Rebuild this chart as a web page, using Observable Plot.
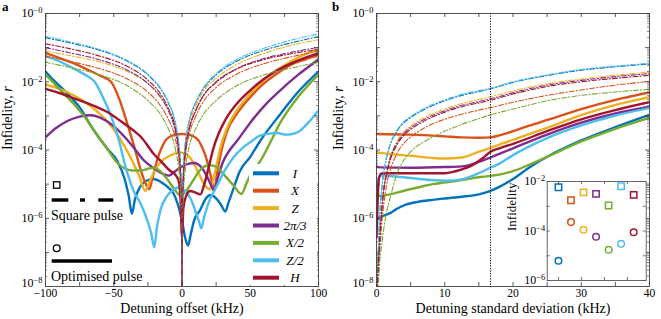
<!DOCTYPE html>
<html><head><meta charset="utf-8">
<script src="https://cdn.jsdelivr.net/npm/d3@7"></script>
<script src="https://cdn.jsdelivr.net/npm/@observablehq/plot@0.6"></script>
<style>
body{margin:0;background:#fff;}
#root{position:relative;width:661px;height:319px;overflow:hidden;background:#fff;}
</style></head>
<body><div id="root"></div>
<script>
const FONT = "'Liberation Serif','DejaVu Serif',serif";
const gates = ["I","X","Z","2π/3","X/2","Z/2","H"];
const gateColors = ["#0072BD","#D95319","#EDB120","#7E2F8E","#77AC30","#4DBEEE","#A2142F"];

// ---------- Panel a: optimised pulses (solid), [detuning kHz, log10 infidelity]
const aSolid_I = [[-100,-1.70],[-94,-1.96],[-85,-2.3],[-75,-2.75],[-65,-3.4],[-55,-3.95],[-47.6,-4.31],[-42,-4.85],[-39,-5.35],[-36.7,-5.87],[-34.5,-5.45],[-31,-5.1],[-26,-4.9],[-21,-4.85],[-15,-4.95],[-10,-5.1],[-6,-5.29],[-3,-5.6],[0,-6.07],[2.5,-6.6],[4.4,-6.8],[6.5,-6.45],[9,-6.05],[13.4,-5.75],[17,-5.45],[21,-5.32],[25,-5.42],[28.5,-5.6],[31.7,-5.8],[34,-5.55],[38,-5.1],[42,-4.65],[50,-4.2],[57,-3.75],[72,-2.95],[85,-2.3],[100,-1.70]];
const aSolid_X = [[-100,-1.15],[-90,-1.3],[-80,-1.45],[-70,-1.63],[-60,-1.82],[-52,-2.0],[-46,-2.5],[-40,-3.24],[-35,-3.9],[-30.5,-4.55],[-27,-4.95],[-24,-5.15],[-21.5,-4.8],[-18.3,-4.31],[-14.5,-3.9],[-11,-3.67],[-5,-3.55],[0,-3.53],[5,-3.55],[11,-3.67],[14.5,-3.9],[18.3,-4.31],[21,-4.75],[23.7,-5.14],[26,-4.6],[29,-4.0],[33,-3.45],[40,-2.95],[50,-2.45],[60,-2.05],[70,-1.75],[80,-1.5],[90,-1.35],[100,-1.22]];
const aSolid_Z = [[-100,-2.08],[-90,-2.2],[-80,-2.38],[-70,-2.62],[-60,-2.95],[-50,-3.4],[-42,-3.9],[-36,-4.35],[-31,-4.8],[-27,-5.2],[-24,-4.95],[-20,-4.6],[-14,-4.3],[-8,-4.15],[-2,-4.07],[3,-4.12],[8,-4.35],[13,-4.75],[17,-5.05],[20,-5.15],[22.5,-4.95],[25,-4.5],[28,-3.95],[33,-3.35],[40,-2.85],[50,-2.35],[60,-1.95],[70,-1.65],[80,-1.4],[90,-1.2],[100,-1.05]];
const aSolid_P = [[-100,-3.63],[-92,-3.35],[-84,-3.15],[-75,-3.02],[-67,-2.98],[-60,-3.05],[-50,-3.3],[-42,-3.62],[-35,-3.95],[-28,-4.3],[-20,-4.55],[-14,-4.7],[-9.5,-4.75],[-5,-4.62],[0,-4.48],[5,-4.4],[9,-4.38],[14,-4.5],[18,-4.75],[21,-5.0],[23.5,-5.2],[26,-4.85],[30,-4.35],[35,-4.0],[40,-3.75],[50,-3.2],[60,-2.72],[72,-2.25],[85,-1.8],[100,-1.35]];
const aSolid_X2 = [[-100,-1.79],[-90,-2.2],[-80,-2.62],[-70,-3.1],[-65,-3.4],[-55,-3.95],[-48,-4.35],[-41,-4.56],[-36,-4.6],[-30,-4.6],[-25,-4.55],[-21,-4.52],[-16,-4.62],[-10,-4.9],[-5,-5.18],[-1,-5.34],[3,-5.2],[8,-4.9],[13,-4.6],[18,-4.46],[22,-4.45],[27,-4.55],[32,-4.78],[38,-5.05],[43.5,-5.29],[47,-5.0],[51,-4.65],[57,-4.35],[65,-3.75],[72,-3.2],[85,-2.45],[100,-1.79]];
const aSolid_Z2 = [[-100,-1.25],[-90,-1.4],[-80,-1.6],[-70,-1.82],[-64,-2.0],[-58,-2.45],[-52,-3.0],[-46,-3.75],[-42,-4.4],[-35.5,-5.19],[-30,-5.6],[-26,-6.0],[-22.5,-6.45],[-20.3,-6.85],[-18.5,-6.3],[-15.9,-5.78],[-11,-5.35],[-7,-5.19],[-2.5,-5.1],[2,-5.2],[6,-5.4],[9.5,-5.75],[12.5,-6.1],[14.1,-6.3],[16,-6.0],[19,-5.6],[25.6,-5.05],[32,-4.55],[37.8,-4.21],[44,-3.95],[50,-3.77],[57,-3.58],[64,-3.52],[70,-3.5],[76,-3.55],[81,-3.53],[86,-3.45],[92,-3.22],[100,-2.84]];
const aSolid_H = [[-100,-2.21],[-90,-2.33],[-80,-2.47],[-70,-2.62],[-62,-2.75],[-55,-2.88],[-45,-3.15],[-35.5,-3.43],[-30,-3.62],[-21,-4.1],[-15,-4.35],[-9,-4.6],[-5,-4.72],[-2.5,-4.9],[-1,-5.5],[0,-6.56],[1,-5.7],[3,-5.35],[6,-5.2],[10,-5.25],[13.4,-5.3],[16,-5.05],[19,-4.6],[23,-3.95],[27,-3.5],[32,-3.1],[40,-2.65],[50,-2.25],[60,-1.92],[70,-1.66],[80,-1.46],[90,-1.3],[100,-1.17]];

// ---------- Panel a: square pulses (dash-dot), on a shared detuning grid
const aDashDetuning = [-100,-80,-60,-40,-25,-15,-10,-5,-2.5,-1,-0.3,0,0.3,1,2.5,5,10,15,25,40,60,80,100];
const aDash_I  = [-0.71,-0.88,-1.08,-1.4,-1.8,-2.25,-2.62,-3.2,-3.8,-4.6,-5.6,-10,-5.6,-4.6,-3.8,-3.2,-2.62,-2.25,-1.8,-1.4,-1.08,-0.86,-0.68];
const aDash_X  = [-1.25,-1.42,-1.62,-1.92,-2.3,-2.75,-3.1,-3.65,-4.25,-5.05,-6.0,-10,-6.0,-5.05,-4.2,-3.6,-3.02,-2.62,-2.17,-1.78,-1.47,-1.27,-1.1];
const aDash_Z  = [-1.1,-1.25,-1.42,-1.7,-2.05,-2.45,-2.8,-3.35,-3.95,-4.75,-5.75,-10,-5.75,-4.75,-3.9,-3.3,-2.72,-2.32,-1.9,-1.5,-1.17,-0.93,-0.77];
const aDash_P  = [-1.0,-1.17,-1.36,-1.66,-2.05,-2.5,-2.85,-3.45,-4.05,-4.85,-5.85,-10,-5.85,-4.85,-4.05,-3.45,-2.85,-2.45,-2.0,-1.62,-1.32,-1.14,-0.99];
const aDash_X2 = [-1.43,-1.6,-1.8,-2.12,-2.55,-3.0,-3.38,-3.95,-4.55,-5.3,-6.3,-10,-6.3,-5.3,-4.55,-3.95,-3.38,-3.0,-2.55,-2.12,-1.8,-1.6,-1.43];
const aDash_Z2 = [-0.67,-0.85,-1.06,-1.38,-1.78,-2.23,-2.6,-3.18,-3.78,-4.58,-5.58,-10,-5.58,-4.58,-3.78,-3.18,-2.6,-2.22,-1.76,-1.35,-1.02,-0.78,-0.6];
const aDash_H  = [-0.89,-1.05,-1.25,-1.55,-1.95,-2.4,-2.78,-3.35,-3.95,-4.75,-5.75,-10,-5.8,-4.8,-4.0,-3.42,-2.85,-2.45,-2.02,-1.63,-1.35,-1.18,-1.05];

// ---------- Panel b: optimised pulses (solid), [sigma kHz, log10 infidelity]
const bSolid_I = [[0,-6.07],[0.4,-5.97],[1,-5.93],[2,-5.85],[3,-5.72],[4.3,-5.6],[6,-5.52],[8.2,-5.46],[10,-5.42],[12.5,-5.37],[15,-5.3],[16.7,-5.2],[18,-5.08],[20,-4.85],[22.5,-4.5],[25,-4.2],[30,-3.72],[35,-3.33],[40,-2.97]];
const bSolid_X = [[0,-3.53],[5,-3.55],[10,-3.6],[12.5,-3.63],[15,-3.64],[16.7,-3.63],[18,-3.57],[20,-3.45],[22.5,-3.28],[25,-3.12],[30,-2.8],[35,-2.53],[40,-2.31]];
const bSolid_Z = [[0,-4.07],[2,-4.12],[5,-4.17],[8,-4.23],[10,-4.25],[12.5,-4.22],[15,-4.05],[16.7,-3.94],[20,-3.7],[25,-3.35],[30,-2.98],[35,-2.68],[40,-2.45]];
const bSolid_P = [[0,-4.48],[0.5,-4.51],[5,-4.52],[10,-4.5],[12.5,-4.48],[15,-4.35],[16.7,-4.22],[20,-3.95],[25,-3.55],[30,-3.2],[35,-2.93],[40,-2.73]];
const bSolid_X2 = [[0,-5.34],[0.5,-5.34],[2,-5.3],[4.3,-5.18],[6,-5.1],[8.2,-5.0],[10,-4.95],[12.5,-4.88],[15,-4.8],[16.7,-4.76],[18,-4.72],[20,-4.62],[22.5,-4.42],[25,-4.2],[30,-3.75],[35,-3.38],[40,-3.06]];
const bSolid_Z2 = [[0,-5.15],[0.3,-4.8],[0.7,-4.74],[2,-4.76],[5,-4.82],[8,-4.88],[10.5,-4.9],[12.5,-4.86],[15,-4.68],[16.7,-4.52],[18,-4.4],[20,-4.15],[25,-3.65],[30,-3.28],[35,-2.99],[40,-2.77]];
const bSolid_H = [[0,-6.56],[0.15,-5.6],[0.35,-4.85],[0.7,-4.69],[2,-4.68],[5,-4.68],[10,-4.68],[12.5,-4.57],[14,-4.45],[15.5,-4.25],[16.7,-4.05],[18,-3.95],[20,-3.82],[25,-3.45],[30,-3.1],[35,-2.83],[40,-2.6]];

// ---------- Panel b: square pulses (dash-dot), on a shared sigma grid
const bDashSigma = [0,0.15,0.3,0.5,0.75,1,1.5,2,3,4,5,7.5,10,12.5,15,16.7,20,25,30,35,40];
const bDash_I  = [-10,-7.8,-6.8,-5.8,-5.2,-4.75,-4.2,-3.85,-3.45,-3.2,-3.05,-2.76,-2.56,-2.4,-2.29,-2.21,-2.02,-1.82,-1.66,-1.56,-1.48];
const bDash_X  = [-10,-8.0,-7.5,-6.9,-6.2,-5.7,-5.0,-4.6,-4.1,-3.8,-3.62,-3.3,-3.1,-2.95,-2.83,-2.76,-2.6,-2.4,-2.24,-2.1,-1.99];
const bDash_Z  = [-10,-8.0,-7.2,-6.4,-5.7,-5.2,-4.6,-4.2,-3.75,-3.47,-3.3,-3.0,-2.8,-2.64,-2.52,-2.44,-2.27,-2.06,-1.92,-1.81,-1.72];
const bDash_P  = [-10,-8.0,-7.3,-6.5,-5.8,-5.25,-4.65,-4.25,-3.8,-3.52,-3.35,-3.05,-2.85,-2.69,-2.58,-2.5,-2.32,-2.1,-1.96,-1.85,-1.76];
const bDash_X2 = [-10,-8.0,-7.8,-7.2,-6.8,-6.4,-5.8,-5.4,-4.7,-4.3,-4.05,-3.7,-3.45,-3.25,-3.08,-2.97,-2.8,-2.56,-2.4,-2.3,-2.22];
const bDash_Z2 = [-10,-7.8,-6.8,-5.8,-5.2,-4.73,-4.17,-3.82,-3.42,-3.17,-3.02,-2.73,-2.53,-2.37,-2.26,-2.19,-2.0,-1.8,-1.64,-1.54,-1.46];
const bDash_H  = [-10,-7.9,-7.2,-6.5,-5.85,-5.3,-4.7,-4.3,-3.85,-3.57,-3.4,-3.1,-2.89,-2.73,-2.62,-2.54,-2.36,-2.14,-2.0,-1.9,-1.81];
const bMarkedSigma = 16.7;

// ---------- Inset: infidelity at the marked sigma (log10)
const insetSquare = [-2.23,-2.76,-2.44,-2.5,-2.97,-2.19,-2.54];
const insetCircle = [-5.2,-3.64,-3.95,-4.23,-4.76,-4.52,-4.05];
const insetXTicks = [1,2.83,4.67,6.5];

// ---------- tick labels
const aXLabels = [-100,-50,0,50,100];
const aXTicks = [-100,-75,-50,-25,0,25,50,75,100];
const bXLabels = [0,10,20,30,40];
const bXTicks = [0,5,10,15,20,25,30,35,40];
const yLabelExps = [-8,-6,-4,-2,0];
const insetYLabelExps = [-6,-4,-2];

// ---------- build tables
const aSolid = [aSolid_I,aSolid_X,aSolid_Z,aSolid_P,aSolid_X2,aSolid_Z2,aSolid_H];
const aDash = [aDash_I,aDash_X,aDash_Z,aDash_P,aDash_X2,aDash_Z2,aDash_H];
const bSolid = [bSolid_I,bSolid_X,bSolid_Z,bSolid_P,bSolid_X2,bSolid_Z2,bSolid_H];
const bDash = [bDash_I,bDash_X,bDash_Z,bDash_P,bDash_X2,bDash_Z2,bDash_H];
const fromPairs = arr => arr.flatMap((pairs,gi)=>pairs.map(([x,e])=>({x, r:Math.pow(10,e), gate:gates[gi]})));
const fromGrid = (grid,arr) => arr.flatMap((vals,gi)=>vals.map((e,k)=>({x:grid[k], r:Math.pow(10,e), gate:gates[gi]})));
const aSolidRows = fromPairs(aSolid), aDashRows = fromGrid(aDashDetuning,aDash);
const bSolidRows = fromPairs(bSolid), bDashRows = fromGrid(bDashSigma,bDash);
const insetRows = gates.flatMap((g,i)=>[
  {i:i+1, gate:g, r:Math.pow(10,insetSquare[i]), kind:"square"},
  {i:i+1, gate:g, r:Math.pow(10,insetCircle[i]), kind:"circle"}]);

const yMajor = d3.range(-8,1).map(e=>Math.pow(10,e));
const yMinor = d3.range(-8,0).flatMap(e=>d3.range(2,10).map(m=>m*Math.pow(10,e)));
const minus = v => v<0 ? "\u2212"+(-v) : String(v);
const supLabel = e => "10^\u2212"+(-e);

const W = 273, H = 273, TK = "#333";
const DASH = "5,2,1.3,2";
function frameTicks(xTicks){
  return [
    Plot.ruleX(xTicks,{x:d=>d, insetTop:H-4, stroke:TK, strokeWidth:0.8}),
    Plot.ruleX(xTicks,{x:d=>d, insetBottom:H-4, stroke:TK, strokeWidth:0.8}),
    Plot.ruleY(yMajor,{y:d=>d, insetRight:W-4, stroke:TK, strokeWidth:0.8}),
    Plot.ruleY(yMajor,{y:d=>d, insetLeft:W-4, stroke:TK, strokeWidth:0.8}),
    Plot.ruleY(yMinor,{y:d=>d, insetRight:W-2, stroke:TK, strokeWidth:0.6}),
    Plot.ruleY(yMinor,{y:d=>d, insetLeft:W-2, stroke:TK, strokeWidth:0.6})
  ];
}
function axisText(xLabels, xTitle){
  const yl = yLabelExps.map(e=>Math.pow(10,e));
  return [
    Plot.text(yl.slice(1),{y:d=>d, frameAnchor:"left", dx:-3, textAnchor:"end", text:d=>supLabel(Math.round(Math.log10(d))), fontSize:12}),
    Plot.text(yl.slice(0,1),{y:d=>d, frameAnchor:"left", dx:-3, dy:-3, textAnchor:"end", text:d=>supLabel(Math.round(Math.log10(d))), fontSize:12}),
    Plot.text(xLabels,{x:d=>d, frameAnchor:"bottom", dy:2, lineAnchor:"top", text:d=>minus(d), fontSize:11.5}),
    Plot.text([xTitle],{frameAnchor:"bottom", dy:17, lineAnchor:"top", text:d=>d, fontSize:14}),
    Plot.text(["Infidelity, r"],{frameAnchor:"left", dx:-37.5, rotate:-90, text:d=>d, fontSize:14})
  ];
}
const style = {fontFamily:FONT, fontSize:"12px", background:"transparent", overflow:"visible", color:"#000"};
const colorScale = {domain:gates, range:gateColors};

const panelA = Plot.plot({
  width:330, height:319, marginLeft:45, marginRight:12, marginTop:13, marginBottom:33,
  style, color:colorScale,
  x:{type:"linear", domain:[-100,100], axis:null},
  y:{type:"log", domain:[1e-8,1], axis:null},
  marks:[
    Plot.line(aSolidRows,{x:"x", y:"r", stroke:"gate", z:"gate", strokeWidth:2.4, curve:"monotone-x", clip:true}),
    Plot.line(aDashRows,{x:"x", y:"r", stroke:"gate", z:"gate", strokeWidth:1.1, strokeDasharray:DASH, curve:"monotone-x", clip:true}),
    ...frameTicks(aXTicks),
    Plot.frame({stroke:"#444", strokeWidth:0.9}),
    ...axisText(aXLabels, "Detuning offset (kHz)")
  ]
});

const panelB = Plot.plot({
  width:331, height:319, marginLeft:46, marginRight:12, marginTop:13, marginBottom:33,
  style, color:colorScale,
  x:{type:"linear", domain:[0,40], axis:null},
  y:{type:"log", domain:[1e-8,1], axis:null},
  marks:[
    Plot.line(bSolidRows,{x:"x", y:"r", stroke:"gate", z:"gate", strokeWidth:2.4, curve:"monotone-x", clip:true}),
    Plot.line(bDashRows,{x:"x", y:"r", stroke:"gate", z:"gate", strokeWidth:1.1, strokeDasharray:DASH, curve:"monotone-x", clip:true}),
    Plot.ruleX([bMarkedSigma],{x:d=>d, stroke:"#111", strokeWidth:1, strokeDasharray:"1.3,1.3"}),
    ...frameTicks(bXTicks),
    Plot.frame({stroke:"#444", strokeWidth:0.9}),
    ...axisText(bXLabels, "Detuning standard deviation (kHz)")
  ]
});

const IW = 99, IH = 99;
const inset = Plot.plot({
  width:150, height:116, marginLeft:46.7, marginRight:4.3, marginTop:13, marginBottom:4,
  style, color:colorScale,
  x:{type:"linear", domain:[0.1,8.0], axis:null},
  y:{type:"log", domain:[1e-6,1e-2], axis:null},
  marks:[
    Plot.frame({fill:"#fff", stroke:"none"}),
    Plot.dot(insetRows.filter(d=>d.kind==="square"),{x:"i", y:"r", stroke:"gate", symbol:"square", r:3.6, strokeWidth:1.5, fill:"none"}),
    Plot.dot(insetRows.filter(d=>d.kind==="circle"),{x:"i", y:"r", stroke:"gate", symbol:"circle", r:3.3, strokeWidth:1.5, fill:"none"}),
    Plot.ruleX(insetXTicks,{x:d=>d, insetTop:IH-3, stroke:TK, strokeWidth:0.7}),
    Plot.ruleX(insetXTicks,{x:d=>d, insetBottom:IH-3, stroke:TK, strokeWidth:0.7}),
    Plot.ruleY([1e-6,1e-5,1e-4,1e-3,1e-2],{y:d=>d, insetRight:IW-3, stroke:TK, strokeWidth:0.7}),
    Plot.ruleY([1e-6,1e-5,1e-4,1e-3,1e-2],{y:d=>d, insetLeft:IW-3, stroke:TK, strokeWidth:0.7}),
    Plot.frame({stroke:"#555", strokeWidth:0.9}),
    Plot.text(insetYLabelExps.map(e=>Math.pow(10,e)),{y:d=>d, frameAnchor:"left", dx:-2, textAnchor:"end", text:d=>supLabel(Math.round(Math.log10(d))), fontSize:12}),
    Plot.text(["Infidelity"],{frameAnchor:"left", dx:-35, rotate:-90, text:d=>d, fontSize:13})
  ]
});

const NS = "http://www.w3.org/2000/svg";
function decorate(svg){
  svg.querySelectorAll("text").forEach(t=>{
    const s = t.textContent;
    if (s.includes("^")) {
      const [b,e] = s.split("^");
      t.textContent = "";
      const t1 = document.createElementNS(NS,"tspan"); t1.textContent = b; t.appendChild(t1);
      const t2 = document.createElementNS(NS,"tspan"); t2.textContent = e;
      t2.setAttribute("dy","-0.48em"); t2.setAttribute("font-size","0.7em"); t.appendChild(t2);
    } else if (s === "Infidelity, r") {
      t.textContent = "";
      const t1 = document.createElementNS(NS,"tspan"); t1.textContent = "Infidelity, "; t.appendChild(t1);
      const t2 = document.createElementNS(NS,"tspan"); t2.textContent = "r"; t2.setAttribute("font-style","italic"); t.appendChild(t2);
    }
  });
}
const root = document.getElementById("root");
function place(el,left,top){ el.style.position="absolute"; el.style.left=left+"px"; el.style.top=top+"px"; root.appendChild(el); decorate(el); }
place(panelA,0,0);
place(panelB,330,0);

// overlay: panel letters, legend, line-style key
const ov = d3.create("svg").attr("width",661).attr("height",319)
  .style("font-family",FONT);
ov.append("text").attr("x",2).attr("y",11).attr("font-weight","bold").attr("font-size",13).text("a");
ov.append("text").attr("x",332).attr("y",11).attr("font-weight","bold").attr("font-size",13).text("b");
const lg = ov.append("g");
lg.append("rect").attr("x",249).attr("y",164).attr("width",68).attr("height",121).attr("fill","#fff");
gates.forEach((g,i)=>{
  const y = 173.3 + i*17.4;
  lg.append("line").attr("x1",253).attr("x2",279).attr("y1",y).attr("y2",y).attr("stroke",gateColors[i]).attr("stroke-width",4);
  lg.append("text").attr("x",295).attr("y",y).attr("dy","0.35em").attr("text-anchor","middle").attr("font-size",13).attr("font-style","italic").text(g);
});
const key = ov.append("g");
key.append("rect").attr("x",53.5).attr("y",181.8).attr("width",6.4).attr("height",6.4).attr("fill","none").attr("stroke","#000").attr("stroke-width",1.3);
[[51.7,68.3],[80,85],[98.3,113.3]].forEach(([a,b])=>key.append("line").attr("x1",a).attr("x2",b).attr("y1",200).attr("y2",200).attr("stroke","#000").attr("stroke-width",3.4));
key.append("text").attr("x",51).attr("y",215).attr("dy","0.35em").attr("font-size",14).text("Square pulse");
key.append("circle").attr("cx",56.7).attr("cy",248.3).attr("r",3.4).attr("fill","none").attr("stroke","#000").attr("stroke-width",1.3);
key.append("line").attr("x1",51.7).attr("x2",112).attr("y1",261).attr("y2",261).attr("stroke","#000").attr("stroke-width",3.4);
key.append("text").attr("x",51).attr("y",275.7).attr("dy","0.35em").attr("font-size",14).text("Optimised pulse");
place(ov.node(),0,0);
place(inset,500,168);
</script>
</body></html>
